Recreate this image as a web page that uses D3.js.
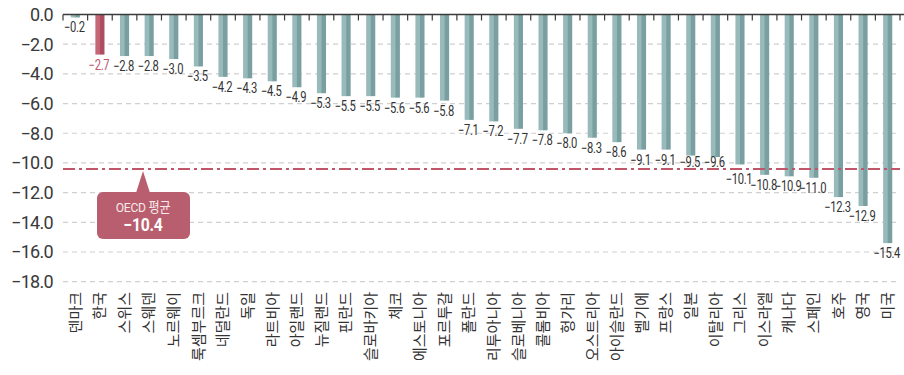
<!DOCTYPE html>
<html lang="ko">
<head>
<meta charset="utf-8">
<script src="https://cdn.jsdelivr.net/npm/d3@7"></script>
<style>
  html, body { margin: 0; padding: 0; background: #fff; }
  svg { display: block; }
  .ytick { font-family: Roboto, "Noto Sans", sans-serif; font-size: 18px; fill: #3a3a3a; letter-spacing: -0.7px; }
  .vlabel { font-family: Roboto, "Noto Sans", sans-serif; font-size: 14px; fill: #333; letter-spacing: -0.4px; }
  .xlabel { font-family: "Noto Sans CJK KR", sans-serif; font-size: 15px; fill: #333; }
</style>
</head>
<body>
<svg id="chart" width="904" height="375"></svg>
<script>
// Countries, ordered as plotted
const countries = ["덴마크","한국","스위스","스웨덴","노르웨이","룩셈부르크","네덜란드","독일","라트비아","아일랜드",
  "뉴질랜드","핀란드","슬로바키아","체코","에스토니아","포르투갈","폴란드","리투아니아","슬로베니아","콜롬비아",
  "헝가리","오스트리아","아이슬란드","벨기에","프랑스","일본","이탈리아","그리스","이스라엘","캐나다",
  "스페인","호주","영국","미국"];
// Value for each country
const values = [-0.2,-2.7,-2.8,-2.8,-3.0,-3.5,-4.2,-4.3,-4.5,-4.9,
  -5.3,-5.5,-5.5,-5.6,-5.6,-5.8,-7.1,-7.2,-7.7,-7.8,
  -8.0,-8.3,-8.6,-9.1,-9.1,-9.5,-9.6,-10.1,-10.8,-10.9,
  -11.0,-12.3,-12.9,-15.4];
const highlight = "한국";
const oecdAverage = -10.4;
const oecdLabel = "OECD 평균";
const yTicks = [0,-2,-4,-6,-8,-10,-12,-14,-16,-18];

const svg = d3.select("#chart");
const plotLeft = 63, plotRight = 900, plotTop = 14.5, plotBottom = 281.7;

const x = d3.scaleBand().domain(countries).range([plotLeft, plotRight]).paddingInner(0.63).paddingOuter(0.315);
const y = d3.scaleLinear().domain([0, -18]).range([plotTop, plotBottom]);
const fmt = v => (v < 0 ? "\u2212" : "") + Math.abs(v).toFixed(1);

// Dashed grid lines
svg.append("g").selectAll("line").data(yTicks.filter(d => d !== 0)).join("line")
  .attr("x1", plotLeft).attr("x2", plotRight)
  .attr("y1", d => y(d)).attr("y2", d => y(d))
  .attr("stroke", "#d0d0d0").attr("stroke-width", 1.2).attr("stroke-dasharray", "5,4");

// Y tick labels
svg.append("g").selectAll("text").data(yTicks).join("text")
  .attr("class", "ytick")
  .attr("x", 53).attr("y", d => y(d)).attr("dy", "0.36em")
  .attr("text-anchor", "end")
  .text(d => fmt(d));

// Bars: lighter left half, darker right half
const colors = {
  base: ["#98babb", "#7a9fa1"],
  hi: ["#c46676", "#ad4e60"]
};
const bars = svg.append("g").selectAll("g").data(countries).join("g");
const bw = x.bandwidth();
bars.append("rect")
  .attr("x", d => x(d)).attr("y", y(0))
  .attr("width", bw / 2 + 0.5)
  .attr("height", (d, i) => y(values[i]) - y(0))
  .attr("fill", d => (d === highlight ? colors.hi : colors.base)[0]);
bars.append("rect")
  .attr("x", d => x(d) + bw / 2).attr("y", y(0))
  .attr("width", bw / 2)
  .attr("height", (d, i) => y(values[i]) - y(0))
  .attr("fill", d => (d === highlight ? colors.hi : colors.base)[1]);

// Label baseline: just below the bar end, but kept clear of the average line
function labelBaseline(v) {
  const e = y(v), a = y(oecdAverage);
  if (e > a - 16 && e < a - 6) return a - 2;
  if (e >= a - 6 && e < a + 8) return Math.max(e + 15, a + 15);
  return e + 15;
}

// Value labels below each bar (narrowed horizontally)
svg.append("g").selectAll("text").data(countries).join("text")
  .attr("class", "vlabel")
  .attr("transform", (d, i) => `translate(${x(d) + bw / 2 - 1},${labelBaseline(values[i])}) scale(0.8,1)`)
  .attr("text-anchor", "middle")
  .style("fill", d => d === highlight ? "#c0566a" : null)
  .text((d, i) => fmt(values[i]));

// Top axis line with ticks at band edges
svg.append("line").attr("x1", plotLeft).attr("x2", 904).attr("y1", plotTop).attr("y2", plotTop)
  .attr("stroke", "#3a3a3a").attr("stroke-width", 1.5);
const step = x.step();
const edges = d3.range(countries.length + 1).map(i => plotLeft + i * step);
svg.append("g").selectAll("line").data(edges).join("line")
  .attr("x1", d => d).attr("x2", d => d).attr("y1", plotTop).attr("y2", plotTop + 6)
  .attr("stroke", "#3a3a3a").attr("stroke-width", 1.2);

// OECD average line
svg.append("line").attr("x1", plotLeft).attr("x2", plotRight)
  .attr("y1", y(oecdAverage)).attr("y2", y(oecdAverage))
  .attr("stroke", "#c0566a").attr("stroke-width", 2).attr("stroke-dasharray", "12,4,3,4");

// Callout box pointing at the average line
const cx = 143, bx0 = 97, bx1 = 190, by0 = 192, by1 = 239;
const callout = svg.append("g");
callout.append("path")
  .attr("d", `M${cx - 7},${by0 + 1} L${cx},${y(oecdAverage) + 2} L${cx + 7},${by0 + 1} Z`)
  .attr("fill", "#b95e6e");
callout.append("rect")
  .attr("x", bx0).attr("y", by0).attr("width", bx1 - bx0).attr("height", by1 - by0)
  .attr("rx", 6).attr("fill", "#b95e6e");
callout.append("text")
  .attr("transform", `translate(${cx},212) scale(0.9,1)`).attr("text-anchor", "middle")
  .attr("font-family", "Roboto, 'Noto Sans CJK KR', sans-serif").attr("font-size", 13.5)
  .attr("fill", "#f6e9eb").attr("letter-spacing", "-0.3px")
  .text(oecdLabel);
callout.append("text")
  .attr("transform", `translate(${cx},230.5) scale(0.9,1)`).attr("text-anchor", "middle")
  .attr("font-family", "Roboto, sans-serif").attr("font-size", 17.5).attr("font-weight", "bold")
  .attr("fill", "#ffffff").attr("letter-spacing", "-0.3px")
  .text(fmt(oecdAverage));

// Country labels, rotated
svg.append("g").selectAll("text").data(countries).join("text")
  .attr("class", "xlabel")
  .attr("transform", d => `translate(${x(d) + bw / 2},292) rotate(-90)`)
  .attr("text-anchor", "end")
  .attr("dy", "0.35em")
  .text(d => d);
</script>
</body>
</html>
